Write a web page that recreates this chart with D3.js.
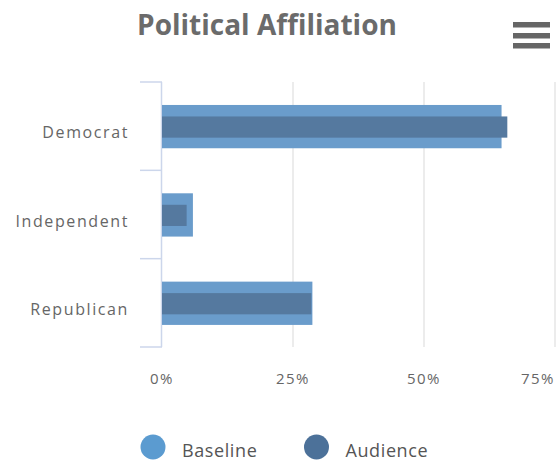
<!DOCTYPE html>
<html><head><meta charset="utf-8">
<script src="https://cdn.jsdelivr.net/npm/d3@7"></script>
<style>body{margin:0;background:#fff}svg{display:block;font-family:"Open Sans",Lato,sans-serif}</style>
</head><body><svg id="c" width="558" height="461"></svg>
<script>
const categories = ["Democrat", "Independent", "Republican"];
const baseline = [64.8, 5.9, 28.7];
const audience = [65.9, 4.7, 28.5];
const xTicks = [0, 25, 50, 75];
const seriesNames = ["Baseline", "Audience"];
const seriesColors = ["#6a9ccb", "#55799f"];
const legendColors = ["#5b9bd0", "#4c7199"];

(function () {
const svg = d3.select("#c");
const pL = 162, pR = 555, pT = 82, pB = 347;
const x = d3.scaleLinear().domain([0, 75]).range([pL, pR]);
const y = d3.scaleBand().domain(categories).range([pT, pB]);

// title
svg.append("text").attr("x", 267).attr("y", 35).attr("text-anchor", "middle")
  .attr("font-size", 28).attr("font-weight", "bold").attr("fill", "#6b6b6b")
  .text("Political Affiliation");

// hamburger
[22, 33, 43].forEach(yy => svg.append("rect").attr("x", 513).attr("y", yy)
  .attr("width", 37).attr("height", 5.5).attr("fill", "#666"));

// gridlines
svg.append("g").selectAll("line").data(xTicks.slice(1)).join("line")
  .attr("x1", d => x(d)).attr("x2", d => x(d)).attr("y1", pT).attr("y2", pB)
  .attr("stroke", "#e6e6e6").attr("stroke-width", 1.5);

// y axis
const ya = svg.append("g");
ya.append("line").attr("x1", pL - 0.5).attr("x2", pL - 0.5).attr("y1", pT).attr("y2", pB)
  .attr("stroke", "#ccd6eb").attr("stroke-width", 1.5);
const tickPos = categories.map(c => y(c)).concat([pB]);
ya.selectAll("line.t").data(tickPos).join("line").attr("class", "t")
  .attr("x1", pL - 22).attr("x2", pL).attr("y1", d => d).attr("y2", d => d)
  .attr("stroke", "#ccd6eb").attr("stroke-width", 1.5);
ya.selectAll("text").data(categories).join("text")
  .attr("x", 129).attr("y", d => y(d) + y.bandwidth() / 2 + 12)
  .attr("text-anchor", "end").attr("font-size", 16).attr("letter-spacing", 1.6)
  .attr("fill", "#666").text(d => d);

// bars
const bw = y.bandwidth();
svg.append("g").selectAll("rect").data(categories).join("rect")
  .attr("x", pL).attr("y", d => y(d) + bw * 0.26)
  .attr("width", (d, i) => x(baseline[i]) - pL).attr("height", bw * 0.49)
  .attr("fill", seriesColors[0]);
svg.append("g").selectAll("rect").data(categories).join("rect")
  .attr("x", pL).attr("y", d => y(d) + bw * 0.39)
  .attr("width", (d, i) => x(audience[i]) - pL).attr("height", bw * 0.24)
  .attr("fill", seriesColors[1]);

// x labels (last one kept inside the chart)
const last = xTicks[xTicks.length - 1];
svg.append("g").selectAll("text").data(xTicks).join("text")
  .attr("x", d => d === last ? x(d) : x(d))
  .attr("y", 384).attr("text-anchor", d => d === last ? "end" : "middle")
  .attr("font-size", 15).attr("letter-spacing", 1.5)
  .attr("fill", "#666").text(d => d + "%");

// legend
const lx = [153, 316.5];
const lg = svg.append("g").selectAll("g").data(seriesNames).join("g")
  .attr("transform", (d, i) => `translate(${lx[i]},447)`);
lg.append("circle").attr("r", 12.5).attr("fill", (d, i) => legendColors[i]);
lg.append("text").attr("x", 29).attr("y", 9.5).attr("font-size", 18).attr("letter-spacing", 0.6)
  .attr("fill", "#555").text(d => d);
})();
</script></body></html>
